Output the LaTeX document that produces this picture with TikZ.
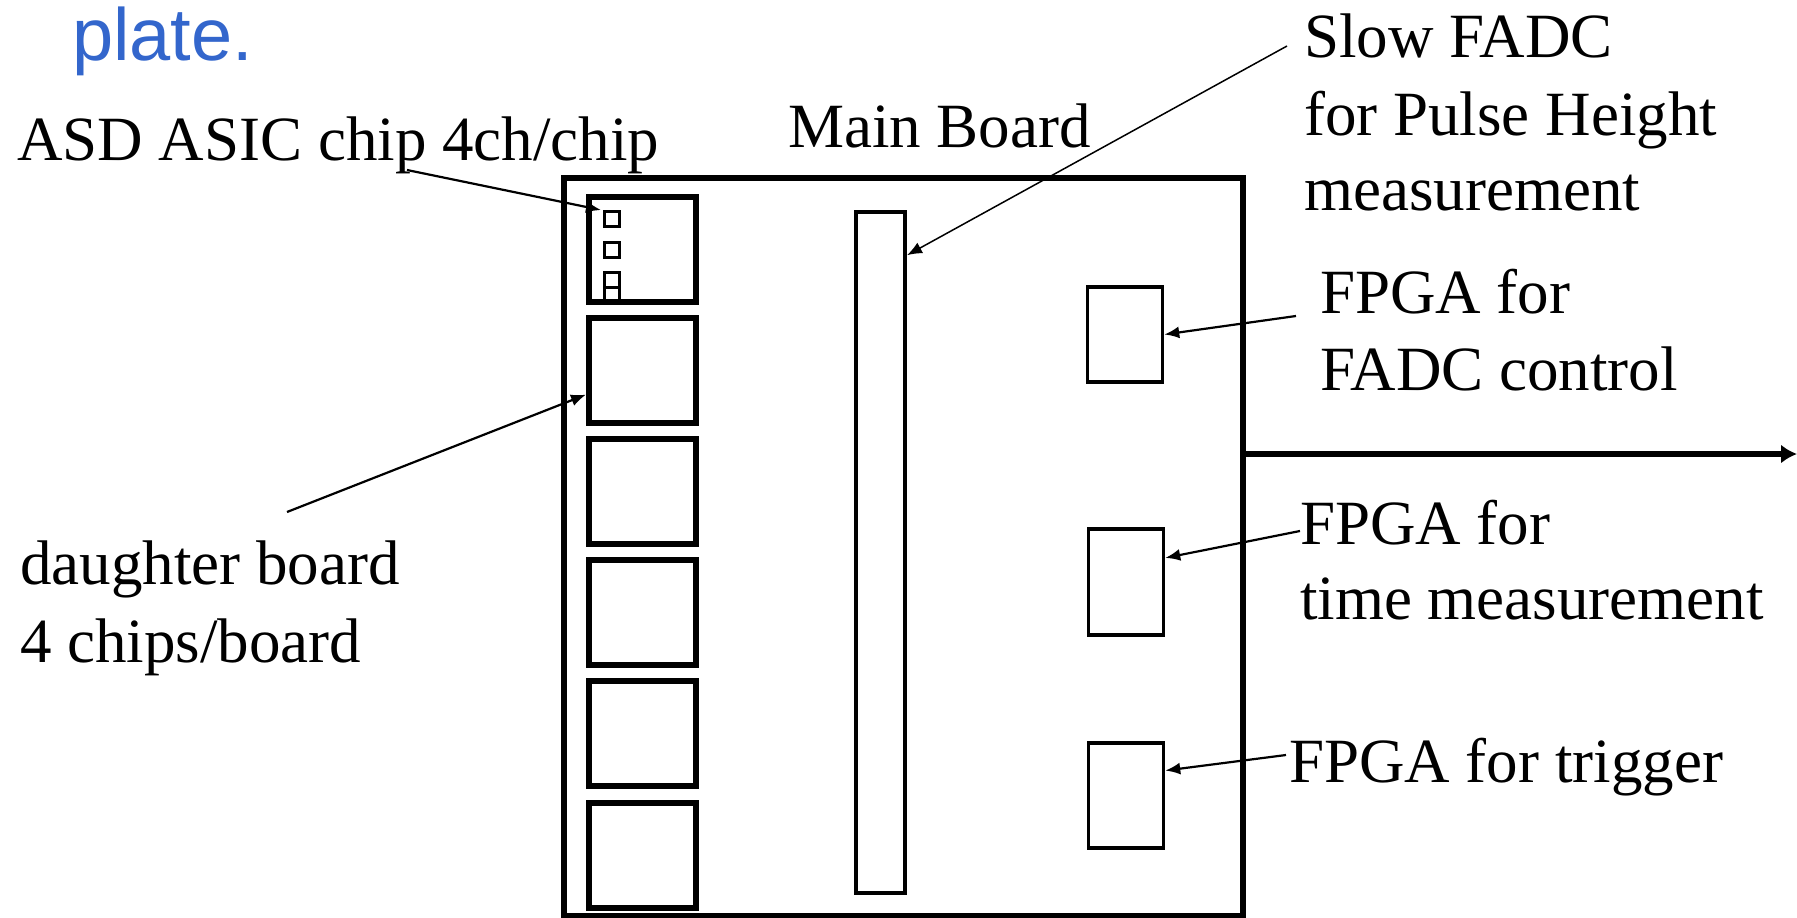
\documentclass[tikz,border=0pt]{standalone}
\usepackage{fontspec}
\setmainfont{Liberation Serif}
\newfontfamily\plsans{Liberation Sans}
\usetikzlibrary{arrows.meta,calc}
\definecolor{titleblue}{RGB}{51,102,204}
\begin{document}
\begin{tikzpicture}[x=1pt,y=-1pt,
  lbl/.style={anchor=base west, inner sep=0pt, font=\fontsize{63}{76}\selectfont},
  outerbox/.style={draw, line width=5.5pt, inner sep=0pt, minimum width=679pt, minimum height=738pt},
  dboard/.style={draw, line width=6pt, minimum width=107pt, minimum height=105pt, inner sep=0pt},
  chipbox/.style={draw, line width=3pt, minimum size=15pt, inner sep=0pt},
  fpgabox/.style={draw, line width=3.5pt, inner sep=0pt, minimum width=75pt},
  mainrect/.style={draw, line width=4pt, minimum width=49pt, minimum height=681pt, inner sep=0pt},
  callout/.style={line width=2.2pt, -{Latex[length=15pt,width=12pt]}},
  thincallout/.style={line width=1.5pt, -{Latex[length=15pt,width=12pt]}},
  outarrow/.style={line width=6pt, -{Latex[length=16pt,width=19pt]}}
]
\useasboundingbox (0,0) rectangle (1797,918);

% title fragment
\node[lbl, font=\plsans\fontsize{74}{80}\selectfont, text=titleblue] (plate) at (72,60) {plate.};

% outer box
\node[outerbox] (outer) at (903.5,547) {};

% daughter boards
\foreach \i in {1,...,6}{
  \node[dboard] (db\i) at (642.5,{249+121.2*(\i-1)}) {};
}
% chips on first board
\node[chipbox] (chip1) at (612,219) {};
\node[chipbox] (chip2) at (612,249.5) {};
\node[chipbox] (chip3) at (612,279.5) {};
\node[chipbox] (chip4) at (612,295) {};

% main board (slow FADC)
\node[mainrect] (mainb) at (880.5,552.5) {};

% FPGAs
\node[fpgabox, minimum height=95pt] (f1) at (1125,334.5) {};
\node[fpgabox, minimum height=106pt] (f2) at (1126,582) {};
\node[fpgabox, minimum height=105pt] (f3) at (1126,795.5) {};

% output arrow
\coordinate (outend) at (1797,454);
\draw[outarrow] (outer.east |- outend) -- (outend);

% labels
\node[lbl] (asd) at (17,160) {ASD ASIC chip 4ch/chip};
\node[lbl] (mainlbl) at (788,147) {Main Board};
\node[lbl] (slow1) at (1304,57) {Slow FADC};
\node[lbl] (slow2) at (1304,135) {for Pulse Height};
\node[lbl] (slow3) at (1304,210) {measurement};
\node[lbl] (fa1) at (1320,313) {FPGA for};
\node[lbl] (fa2) at (1320,390) {FADC control};
\node[lbl] (ft1) at (1300,544) {FPGA for};
\node[lbl] (ft2) at (1300,619) {time measurement};
\node[lbl] (ftr) at (1289,782) {FPGA for trigger};
\node[lbl] (dl1) at (20,584) {daughter board};
\node[lbl] (dl2) at (20,662) {4 chips/board};

% callout arrows
\coordinate (asdstart) at (407,170);
\draw[callout] (asdstart) -- ([xshift=-2pt]chip1.north west);
\coordinate (dstart) at (287,512);
\draw[callout] (dstart) -- ($(db2.north west)!0.72!(db2.south west)$);
\coordinate (sstart) at (1287,46);
\draw[thincallout] (sstart) -- ($(mainb.north east)!0.066!(mainb.south east)$);
\coordinate (fastart) at (1296,316);
\draw[callout] (fastart) -- (f1.east);
\coordinate (ftstart) at (1300,531);
\draw[callout] (ftstart) -- ($(f2.north east)!0.28!(f2.south east)$);
\coordinate (ftrstart) at (1286,755);
\draw[callout] (ftrstart) -- ($(f3.north east)!0.27!(f3.south east)$);
\end{tikzpicture}
\end{document}
